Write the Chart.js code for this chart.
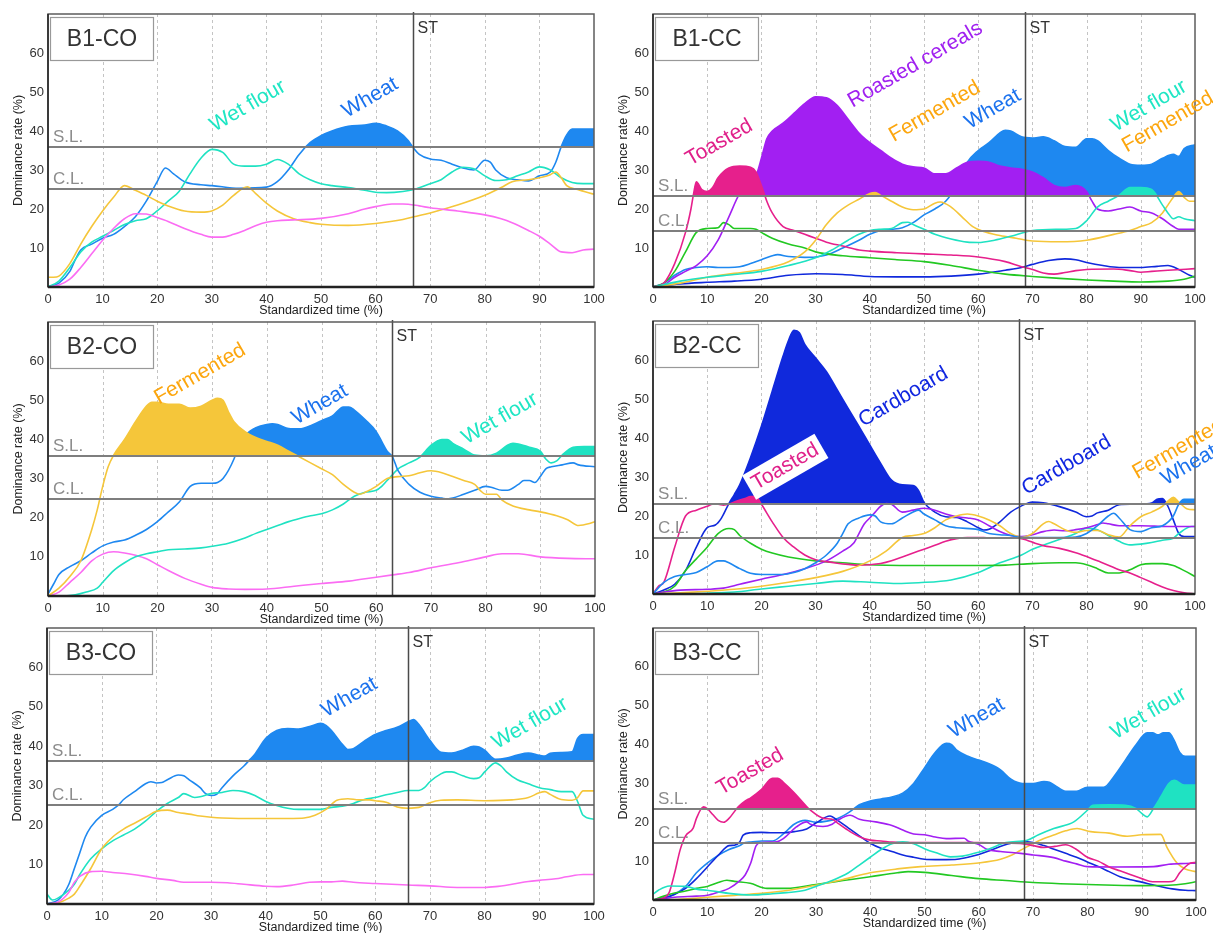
<!DOCTYPE html>
<html>
<head>
<meta charset="utf-8">
<script src="https://cdn.jsdelivr.net/npm/chart.js@4.4.0/dist/chart.umd.min.js"></script>
<style>
body{margin:0;background:#fff;width:1213px;height:933px;overflow:hidden;position:relative}
canvas{position:absolute}
</style>
</head>
<body>
<script>
//DATA - [standardized time, dominance rate]

// B1-CO
var b1coWheat = [[0,0],[2,1],[4,4],[5,7],[6,9.5],[8,11],[10,12.5],[12,13.5],[14,15.5],[16,18],[18,22],[20,27],[21.5,30.5],[23,29],[25,27],[28,26.2],[30,26],[35,25.3],[40,25.6],[42,27],[44,30],[46,34],[48,37],[50,38.8],[52,40],[55,41.2],[58,41.5],[60,42],[62,41.3],[64,40],[66,37.5],[67,35.5],[68,34],[70,32.8],[72,32.5],[74,31.5],[76,30.5],[78,30],[80,32.5],[81,32],[82,30],[84,28],[86,27.5],[88,27.2],[90,28.5],[92,29.5],[93,32],[94,36],[95,39],[96,40.5],[100,40.5]];
var b1coWetFlour = [[0,0],[2,1.5],[4,5],[6,9],[8,11.5],[10,13],[12,14.5],[14,16],[16,17],[18,17.5],[20,19.5],[22,22],[24,24.5],[26,29],[28,33],[30,35.3],[32,34.5],[34,31.5],[36,31],[38,31],[40,31.5],[42,32.7],[44,31.5],[46,29],[48,27.5],[50,26.5],[52,26],[55,25.5],[58,24.8],[60,24.3],[62,24.2],[65,24.5],[67,25],[70,26.5],[72,27.5],[74,29.5],[76,30.7],[78,30.3],[80,28.5],[82,27.3],[84,27.5],[86,28.5],[88,29.5],[90,30.8],[92,30],[94,28],[96,26.8],[98,26.5],[100,26.5]];
var b1coFermented = [[0,2.5],[1,2.5],[2,2.8],[4,6],[6,11],[8,15.5],[10,19.5],[12,23],[14,26],[16,24.8],[18,23.5],[20,22],[22,20.8],[25,19.5],[28,19.2],[30,19.5],[32,21],[34,23.5],[36.5,25.7],[38,24],[40,21.5],[42,19.5],[45,17.5],[48,16.5],[50,16.1],[55,15.8],[60,16.3],[65,17.3],[67,18],[70,19],[75,21],[80,23.5],[83,25.5],[85,27],[88,27.5],[90,28],[92,28.8],[93,29.5],[94,28],[95,26],[97,25],[100,23.8]];
var b1coPink = [[0,0],[2,0.5],[4,2],[6,5],[8,8.5],[10,12],[12,15],[14,17.5],[16,18.8],[18,18.7],[20,17.8],[22,16.8],[25,15],[28,13.5],[30,12.8],[32,12.8],[34,13.5],[36,14.5],[38,15.7],[40,16.6],[42,17],[45,17.2],[50,17.6],[55,18.8],[58,20],[60,20.6],[63,21.3],[65,21.3],[68,20.8],[70,20.3],[75,19.5],[80,18.5],[83,17.5],[85,16.5],[88,14.5],[90,13],[92,11],[94,9],[96,8.8],[98,9.5],[100,9.7]];

// B1-CC
var b1ccToasted = [[0,0],[2,1],[4,6],[6,14],[7,20],[7.5,24],[8,27],[9,25],[10,24.5],[11,25.5],[12,28],[14,30.5],[16,31],[18,30.7],[19,29.5],[20,26],[21,22],[22,19],[24,15.5],[26,14.5],[28,13.5],[30,12.5],[32,11.5],[35,10.5],[38,9.5],[40,9.2],[45,8.8],[50,8.5],[55,8.2],[60,7.7],[65,6.5],[68,5.2],[70,4.5],[72,3.6],[74,3.3],[76,3.7],[78,4.2],[80,4.5],[85,4.6],[88,4.2],[90,3.8],[92,4],[95,4.3],[100,4.7]];
var b1ccRoasted = [[0,0],[2,0.5],[4,2.5],[6,4],[8,5.5],[10,8],[12,12],[14,18],[16,24],[18,27],[19,28.5],[20,33],[21,38],[22,40],[24,42],[26,44.5],[28,47],[30,48.8],[32,48.5],[34,46.5],[36,43],[38,39.5],[40,37],[42,35],[44,33],[46,31.5],[48,30.8],[50,30.5],[52,29],[54,29],[56,30.5],[58,32],[60,32.2],[62,32],[64,31],[66,30.5],[68,30.2],[70,29.5],[72,28],[74,26],[76,25.5],[78,26],[80,24.5],[81,22],[82,20],[84,19.5],[86,20],[88,20.5],[90,19.5],[92,19],[94,17.5],[96,15.5],[97,14.8],[100,14.8]];
var b1ccWheat = [[0,0],[2,1],[4,3],[6,4.5],[8,5],[10,5.2],[12,5],[14,5],[16,5.2],[18,6],[20,7],[22,8],[23,8.3],[25,7.8],[28,7.6],[30,7.7],[32,8.2],[35,10],[38,12],[40,13.5],[42,14.5],[44,14.8],[46,15.2],[48,16.5],[50,18.5],[52,20],[54,22],[56,26],[58,32],[60,35],[62,37],[64,39.5],[65,40.2],[66,40],[68,38.5],[70,38.2],[72,38.5],[74,37.5],[76,36],[78,35.8],[80,38],[81,38],[82,37.5],[84,35],[86,33],[88,31.5],[90,31.2],[92,31.5],[94,33],[96,34],[97,33.5],[98,35.5],[100,36.5]];
var b1ccFermented = [[0,0],[5,1],[10,2.5],[15,3.5],[20,4.5],[25,6.5],[28,9],[30,12],[32,16],[34,19],[36,21],[38,22.5],[40,24],[41,24.2],[42,23.5],[44,22],[46,20.5],[48,19.8],[50,20],[52,21.5],[53,21.8],[55,20.5],[57,18],[59,15.5],[61,14.2],[64,13.2],[67,12.5],[70,11.8],[75,11.6],[80,12],[85,13.5],[88,14.5],[90,15.5],[92,16.5],[94,19],[95,21],[96,23],[97,24.5],[98,23],[99,22],[100,22]];
var b1ccWetFlour = [[0,0],[5,1.5],[10,2.5],[15,3.2],[20,4],[25,5.5],[30,7.5],[33,9.5],[36,12],[38,13.5],[40,14.5],[42,14.8],[44,15],[46,16.5],[47,16.6],[48,16],[50,14.8],[52,13.5],[55,12.3],[58,11.5],[60,11.4],[63,12],[66,13],[70,14.5],[75,14.8],[78,15],[80,17],[82,20.5],[84,22],[86,23.5],[88,25.5],[90,25.5],[92,25],[94,21],[95,19],[96,17.5],[97,18],[98,17.5],[100,17]];
var b1ccCardboard = [[0,0],[5,0.8],[10,1.2],[15,1.5],[20,2],[25,3],[30,3.4],[35,3.2],[40,2.7],[45,2.6],[50,2.6],[55,2.8],[60,3.3],[65,4.3],[68,5],[70,5.8],[73,6.8],[76,7.2],[78,7],[80,6.3],[83,5.5],[86,5],[90,5],[93,5.3],[95,5.5],[97,4.5],[99,3],[100,2.5]];
var b1ccGreen = [[0,0],[2,1],[4,4],[6,9],[8,14],[10,15],[12,15.2],[13,16.5],[14,16],[15,15],[18,15],[19,14.8],[20,14],[22,12.5],[25,11],[28,10],[30,9],[35,8],[40,7.5],[45,7],[50,6.5],[55,5.5],[60,4.3],[65,3.3],[70,2.7],[75,2.2],[80,1.8],[85,1.5],[90,1.3],[95,1.5],[98,2],[100,2.8]];

// B2-CO
var b2coFermented = [[0,0],[2,2],[4,5],[6,9],[8,17],[9,22],[10,28],[11,33],[12,36],[14,40],[16,44.5],[18,48.5],[19,49.5],[20,49.5],[22,49],[24,49],[26,48],[28,48.5],[30,50],[31,50.5],[32,50],[33,47],[34,44.5],[36,42],[38,40.5],[40,39.5],[42,38.5],[44,37],[46,35.5],[48,34],[50,32.5],[52,31],[54,28.5],[56,26.5],[57,26],[58,26.5],[60,28],[62,30],[64,30.5],[66,30.7],[68,31.5],[70,32],[72,31.5],[74,30.5],[76,29.5],[78,28.5],[79,27],[80,26],[82,26],[83,24.5],[85,23],[88,22],[90,21.5],[93,20.5],[95,19.5],[97,18],[99,18.5],[100,19]];
var b2coWheat = [[0,0.5],[1,3],[2,5.5],[4,7.5],[6,9],[8,11],[10,12.8],[12,13.8],[14,14.3],[16,15.5],[18,17],[20,19],[22,21.5],[24,24],[26,28],[28,28.8],[30,28.8],[31,29],[32,30],[34,35],[35,39],[36,41],[37,42.2],[38,43],[40,43.8],[41,44],[42,43.8],[44,42.8],[46,42.7],[48,43.5],[50,44.8],[52,46],[54,48.3],[55,48.3],[56,47.5],[58,45],[60,42],[61,39.5],[62,37],[63,35.5],[64,32],[66,28.5],[68,26.5],[70,25.5],[72,25],[73,24.8],[74,25],[76,26],[78,27],[80,28],[81,27.8],[83,27],[84,27],[86,28.5],[87,29.5],[88,29.5],[89,29],[90,30.5],[91,32.5],[92,33],[94,33.5],[96,34],[97,33.5],[100,33]];
var b2coWetFlour = [[0,0],[3,0],[5,0.3],[7,1],[9,2],[10,3.5],[12,6.5],[14,8.5],[16,10],[18,10.8],[20,11.3],[22,11.8],[25,12],[28,12.3],[30,12.7],[33,13.5],[36,14.8],[38,16],[40,17],[42,18],[44,19],[46,19.8],[48,20.5],[50,21],[52,22],[54,23.5],[56,25.5],[58,26.5],[60,27],[61,28],[62,29.5],[63,31],[64,32.5],[66,34],[68,35.5],[69,37],[70,38.5],[72,40],[73,40],[74,39],[76,37.5],[78,36],[80,35.8],[82,36.5],[84,38.5],[85,39],[86,38.8],[88,38],[90,37],[91,35],[92,34],[93,34.5],[94,36],[96,38],[98,38.2],[100,38.2]];
var b2coPink = [[0,0],[2,1],[4,3.5],[6,6],[8,9],[10,10.7],[12,11.3],[14,11],[16,10.4],[18,9.5],[20,8],[22,6.5],[25,4.5],[28,3],[30,2.2],[33,1.8],[36,1.7],[40,1.8],[45,2.5],[50,3.2],[55,3.8],[60,4.8],[63,5.4],[66,6],[70,7.2],[75,8.5],[80,10],[83,10.8],[86,10.8],[90,10],[95,9.6],[100,9.5]];

// B2-CC
var b2ccCardboard = [[0,0],[2,1],[4,2.5],[6,6],[8,12],[10,17],[11.5,17.7],[12.6,19.4],[14,23.2],[15,25.5],[16,28],[18,35],[20,43],[22,52],[24,61],[25,65],[26,67.6],[27,67],[28,64],[30,60.5],[32,57],[34,52.3],[36,47.6],[38,43],[40,38.2],[42,33.5],[44,29.2],[46,28],[48,27.8],[49,26.5],[50,23.5],[52,21],[54,19.8],[56,19.6],[58,18.5],[60,17],[61,16.4],[62,16.6],[64,18.5],[66,21],[68,22.6],[70,23.6],[72,23.4],[75,22.4],[78,21],[80,19.8],[81,20],[82,20.8],[84,21.5],[86,22.9],[88,23],[90,23],[92,23.3],[93,24.3],[94,24.5],[95,22.5],[96,19],[97,15.5],[98,14.7],[100,14.7]];
var b2ccToasted = [[0,0],[1,2],[2,3],[4,12],[6,20],[8,21.5],[10,22.5],[11,23],[12,23],[13,22.8],[14,23],[15,23.6],[17,24.5],[18,25],[19,25],[20,23],[22,18.5],[24,14.5],[26,12],[28,10],[30,8.8],[32,8.3],[34,7.9],[36,7.6],[38,7.4],[40,7.5],[42,7.8],[44,8.5],[46,9.5],[48,10.5],[50,11.5],[52,12.5],[54,13.5],[56,14.2],[58,14.5],[60,14.5],[62,14.4],[65,14.4],[67,14.4],[69,13.8],[70.5,13],[72,12.4],[75,11.7],[78,10.6],[80,9.6],[82,8.5],[84,7.4],[86,6.2],[88,5.4],[90,4.2],[92,3],[94,1.8],[96,0.9],[98,0.3],[100,0]];
var b2ccRoasted = [[0,0],[2,0.5],[5,1],[10,1.2],[13,1.5],[16,2.5],[20,3.8],[24,5],[28,6.5],[32,8.5],[35,11],[37,13],[38,15.5],[39,18],[40,19.5],[41,21],[42,22.5],[43,23.2],[44,23],[46,21],[48,21.5],[50,22],[52,21.5],[54,20.5],[56,19.8],[58,19.5],[60,19],[62,17.5],[64,16],[66,15],[68,14.7],[70,15.2],[72,16],[74,16.4],[76,16.2],[78,16.5],[80,17],[82,17.8],[83,18.2],[84,18],[86,17.5],[88,17.5],[90,17.5],[95,17.3],[100,17.3]];
var b2ccFermented = [[0,0],[5,0.3],[10,0.7],[15,1.2],[20,2],[25,3],[30,4.2],[35,5.8],[40,8.5],[43,11],[46,14.5],[48,15],[50,15.5],[52,17],[54,19],[56,20],[58,20.5],[60,20],[62,19],[64,17.5],[66,15.5],[68,14.5],[70,15.5],[72,18],[73,18.6],[74,18],[76,16.5],[78,15.8],[80,16.3],[82,16.3],[84,15.2],[86,14.6],[88,17.5],[90,19.8],[92,21],[94,22.5],[95,23.8],[96,24.8],[97,23.6],[98.6,21.8],[100,21.6]];
var b2ccWheat = [[0,0],[2,3],[4,4.5],[6,5],[8,5.5],[10,7],[12,8.5],[13,8.5],[14,8],[16,6.5],[18,5.3],[20,5],[24,5],[26,5.5],[28,6.5],[30,8],[32,10],[34,13],[35,15.5],[36,18],[38,19.5],[40,20.3],[41,20],[42,18.5],[44,18],[46,19.5],[48,21],[49,21.5],[50,20.5],[52,19],[54,17.5],[56,17],[60,16.5],[62,15.5],[64,15.2],[66,15],[68,14.5],[70,14.5],[75,14.5],[78,14.6],[80,15.5],[82,17.5],[84,20],[85,20.7],[86,19.5],[88,16.5],[90,16],[92,17],[94,17.5],[96,20],[97,23],[98,24.3],[100,24.3]];
var b2ccWetFlour = [[0,0],[10,0.2],[15,0.5],[20,1.3],[25,2],[30,2.7],[35,3.3],[40,3],[45,2.7],[49,2.9],[55,3.6],[60,5.5],[64,8],[68,10],[70,11.5],[73,13],[76,14.5],[78,15.5],[80,16.9],[82,16.5],[84,15],[86,13.5],[88,12.6],[90,12.8],[92,13.2],[94,13.8],[96,14.3],[97,15.5],[99.4,17.3],[100,17.3]];
var b2ccGreen = [[0,0],[2,0.5],[4,2],[6,6],[8,9],[10,12],[12,15.5],[14,16.8],[15,16.5],[16,15],[18,13],[20,11.5],[22,10.5],[25,9.5],[30,8.5],[35,8],[40,7.5],[50,7.3],[60,7.3],[65,7.4],[70,7.8],[75,8],[78,8],[80,7.5],[82,6.5],[84,5.4],[86,5.4],[88,6.2],[90,7.5],[92,7.8],[94,7.8],[96,7.3],[98,6],[100,4.5]];

// B3-CO
var b3coWheat = [[0,0],[2,1],[3,2.5],[4,5],[5,9],[6,13],[7,17],[8,19.5],[10,22.5],[12,24],[13,25],[14,26.5],[16,28.5],[18,30.5],[19,31],[20,30.7],[21,30.8],[22,31.5],[24,32.7],[25,32.5],[26,31.5],[28,29.5],[29,28],[30,27.5],[31,27.8],[32,29.5],[34,32.5],[36,35],[37,36.5],[38,38],[40,42],[42,44],[44,44.5],[46,44.4],[48,45],[50,45.8],[51,45.3],[52,44],[54,40.5],[55,39.2],[56,39.4],[58,41.3],[60,43],[62,44],[64,44.8],[66,46.2],[67,46.8],[68,45.5],[70,41.5],[72,38.5],[74,38.3],[76,39],[78,40],[79,39.8],[80,39],[82,36.7],[84,37],[86,37.8],[88,38.3],[90,37.7],[91,37.5],[92,38.2],[94,38.4],[96,38.6],[97,42],[98,43],[100,43]];
var b3coWetFlour = [[0,2.5],[1,1],[2,1.5],[4,3.5],[5,5],[6,7.5],[8,11.5],[10,14],[12,16],[14,17.5],[16,19],[18,21],[20,23.5],[22,25.5],[24,27],[25,28],[27,27],[28,27.2],[30,28],[32,28.3],[34,28.8],[36,28.5],[38,27.5],[40,26],[42,25],[44,24.3],[46,24],[48,24],[50,24],[52,24.5],[54,24.8],[56,25.5],[58,26.5],[60,27],[62,27.7],[64,28.3],[66,28.8],[68,28.8],[69,29.5],[70,31],[72,33],[73,33.5],[74,33.5],[76,32.5],[78,31.8],[79,32],[80,33.5],[82,35.8],[83,35],[84,33.5],[86,31.5],[88,30.5],[90,29.5],[92,29],[94,28.5],[96,28.5],[97,26],[98,22.5],[100,21.5]];
var b3coFermented = [[0,0],[2,0.3],[4,1.5],[5,2.5],[6,4.5],[8,9],[10,14],[12,17],[14,19],[16,20.5],[18,22],[20,23.5],[22,23.8],[24,23.2],[26,22.8],[28,22.3],[30,22],[32,21.8],[35,21.7],[40,21.7],[45,21.7],[47,21.8],[49,22.5],[51,24],[53,26.3],[55,26.7],[57,26.4],[59,26.4],[60,26.2],[62,25.8],[64,24.6],[66,24.3],[68,24.5],[70,25.7],[72,26.3],[75,26.4],[80,26.2],[85,26.4],[88,27],[90,28.2],[91,28.5],[92,27.8],[94,26.5],[96,26.3],[97,27],[98,28.7],[100,28.7]];
var b3coPink = [[0,0],[2,0.5],[4,3],[5,5.5],[6,7],[8,8.2],[10,8.3],[12,8],[15,7.6],[18,7],[20,6.5],[23,6],[25,5.5],[28,5.5],[30,5.5],[33,5.4],[36,5],[40,4.5],[42,4.4],[45,4.8],[48,5.5],[50,5.6],[52,5.6],[54,5.8],[56,5.5],[60,5.2],[63,5],[66,4.8],[70,4.6],[75,4.2],[80,4.2],[82,4.4],[85,5],[88,5.7],[90,6],[93,6.4],[95,6.9],[98,7.5],[100,7.5]];

// B3-CC
var b3ccToasted = [[0,0],[2,0.5],[3,2],[4,7],[5,12.9],[6,16.5],[7.4,18.5],[8,21],[9.3,24],[10,23.5],[11,22],[12,20.5],[13,20],[14,21],[15.7,24],[17,25.5],[18,26.3],[20,28.5],[22,31.3],[23,31.3],[24,30.3],[26,27.6],[28,24.5],[29,23.1],[31.4,21],[33,20.8],[34,19.8],[36.3,17.6],[38,16.3],[40,15.4],[42,15.2],[44,14.9],[46,14.8],[50,14.8],[55,14.8],[60,14.8],[65,14.6],[68,14.5],[70,14],[72,13.5],[74,13.8],[76,14.2],[78,13],[80,11],[82,10],[84,8.5],[86,7.5],[88,6.5],[90,5.5],[92,4.7],[95,4.7],[96,5],[97,7],[98,8.5],[99,9.5],[100,9.7]];
var b3ccWheat = [[0,0],[2,0.5],[4,1.5],[6,3.5],[8,7],[10,9.5],[12,11.5],[14,13],[16,14],[17,14.8],[18,14.9],[20,15.2],[22,15.2],[24,17],[26,19.5],[28,20.5],[30,20],[32,20.3],[34,21],[36,22.5],[38,24.5],[40,25.5],[42,26],[44,26.5],[46,27.5],[48,30],[50,34],[52,38],[54,40.3],[55,40],[56,38.5],[58,37],[60,36],[62,35],[64,33.5],[66,31],[68,30],[70,30],[72,30.5],[73,30.3],[74,29.5],[76,28],[78,28],[80,29],[82,29],[83,29],[85,32],[87,36],[89,40],[91,43],[92,43],[93,42.5],[94,43],[95,43],[96,41],[97,38],[98,37],[100,37]];
var b3ccWetFlour = [[0,1.5],[1,2.5],[3,3.6],[6,3.5],[8,2.8],[10,2.5],[12,2.1],[14,1.7],[18,1.3],[22,1.6],[24.6,1.9],[28,2.5],[30,3.5],[33,5],[36,7],[38,9],[40,11],[42,13],[44,14.5],[46,15],[48,14.5],[50,13.2],[52,12.2],[54.8,11.1],[57,11.3],[60,12.3],[62,13.2],[65,14.8],[68.9,15.4],[71,16.8],[73.8,18.4],[77.5,20.1],[80,23.1],[81,24.4],[84,24.5],[87,24.4],[89,23.5],[90,22.3],[91,21.4],[92.2,23.6],[93.5,26.5],[95,30],[96,30.8],[97.8,29.6],[100,29.6]];
var b3ccCardboard = [[0,0],[2,0.5],[4,1.5],[6,3],[8,5.5],[10,8.5],[12,11.5],[14,14],[15,14.1],[16,15],[16.6,16.7],[18,17.3],[20,17.4],[22,17.3],[24,17.3],[26,17.6],[28.3,18.3],[30,19.8],[32.6,21.6],[34,20.5],[36,18.5],[38,16.5],[40,14.6],[42,13.3],[44,12.5],[46,11.6],[48,11],[50,10.5],[52,10.4],[54,10.4],[56,10.5],[58,11],[60,11.7],[62,12.7],[64.6,14.1],[66,14.6],[68.9,15],[70,14.8],[72,14],[74,13],[76,12],[78,11],[80,9.8],[82,8.6],[84,7.3],[86,6],[88,5.2],[90,4.6],[92,3.9],[94,3.3],[96,2.8],[98,2.5],[100,2.4]];
var b3ccRoasted = [[0,0],[4,0.7],[8,1],[10,1.2],[12,2],[14,3],[16,5],[17,6.5],[18,9.5],[19,14],[20,14.8],[22.8,15],[24,15.8],[26.4,18.8],[28.3,20.1],[29,19.5],[31.3,18.9],[33,19.5],[34,20.5],[36.3,21.8],[38,20.8],[41,20.1],[44,19.2],[46,18],[48,17],[50,16.8],[52,16.2],[54,15.8],[57.3,15.9],[58,15.2],[60,14.3],[61.6,13],[64,12.5],[67.7,12],[70,11.6],[73.8,10.9],[76,10],[78,9.3],[80,8.6],[85,8.5],[92.2,8.6],[95,9.2],[98,9.4],[100,9.5]];
var b3ccFermented = [[0,0],[5,0.2],[10,0.7],[15,1.2],[20,1.7],[25,2.5],[30,3.8],[35,5.3],[40,7],[45,8],[49.3,8.6],[55,9],[60.3,9.6],[64,10.5],[66,11.5],[67.7,12.8],[70,14.5],[72,15.8],[73.8,16.7],[76,17.8],[78.1,18.4],[80.6,17.6],[84,17.2],[87.3,16.4],[90,16.8],[93.5,16.9],[94.7,13.4],[96.5,9.5],[98,8],[100,7.3]];
var b3ccGreen = [[0,0],[2,1],[4,1.8],[6,2.3],[8,3],[10,3.5],[12,4.5],[13.6,5.1],[15,4.8],[17.9,4.3],[21,3],[24.6,3],[30,4],[35,5],[40,6],[45,7],[47,7.3],[50,7.1],[55,6.3],[60,5.5],[65,5],[70,4.5],[75,4.2],[80,4],[85,3.8],[90,3.7],[95,3.8],[98,4.2],[100,4.7]];

// panel levels
var panelNames = ['B1-CO', 'B1-CC', 'B2-CO', 'B2-CC', 'B3-CO', 'B3-CC'];
var slLevels = [36, 23.3, 35.8, 23.2, 36.2, 23.3];
var clLevels = [25, 14.4, 24.8, 14.4, 25.2, 14.6];
var stTimes = [66.8, 68.7, 62.9, 67.5, 66, 68.4];

//STYLE
var FONT = '"Liberation Sans", Arial, sans-serif';
var col = {
    wheat: '#1e88f0', wet: '#1fe2c2', ferm: '#f5c63a', pink: '#fb6cf3',
    toast: '#e6208c', roast: '#a21ff2', card: '#1029dc', green: '#22c822'
};
var txt = {
    wheat: '#1b72ee', wet: '#1ee6c4', ferm: '#fca60e', toast: '#e0208a', roast: '#a020f0', card: '#1026e0'
};

var panels = [
    { left: 0, top: 0, w: 605, h: 330, area: [14, 287, 48, 594],
      series: [[b1coWheat, col.wheat, 3], [b1coWetFlour, col.wet, 2], [b1coFermented, col.ferm, 1], [b1coPink, col.pink, 0]],
      notes: [['Wet flour', 36.6, 46.4, txt.wet], ['Wheat', 59, 48.5, txt.wheat]] },
    { left: 605, top: 0, w: 608, h: 330, area: [14, 287, 653, 1195],
      series: [[b1ccWetFlour, col.wet, 0], [b1ccFermented, col.ferm, 1], [b1ccToasted, col.toast, 2], [b1ccRoasted, col.roast, 3], [b1ccGreen, col.green, 4], [b1ccCardboard, col.card, 5], [b1ccWheat, col.wheat, 6]],
      notes: [['Toasted', 12.2, 37, txt.toast], ['Roasted cereals', 48.4, 57, txt.roast], ['Fermented', 52, 45, txt.ferm], ['Wheat', 62.7, 45.6, txt.wheat], ['Wet flour', 91.5, 46.4, txt.wet], ['Fermented', 95, 42.3, txt.ferm]] },
    { left: 0, top: 310, w: 605, h: 330, area: [322, 596, 48, 595],
      series: [[b2coFermented, col.ferm, 0], [b2coWheat, col.wheat, 1], [b2coWetFlour, col.wet, 2], [b2coPink, col.pink, 3]],
      notes: [['Fermented', 27.8, 56.7, txt.ferm], ['Wheat', 49.7, 48.9, txt.wheat], ['Wet flour', 82.6, 45.3, txt.wet]] },
    { left: 605, top: 310, w: 608, h: 330, area: [321, 594, 653, 1195],
      series: [[b2ccWheat, col.wheat, 0], [b2ccFermented, col.ferm, 1], [b2ccToasted, col.toast, 2], [b2ccRoasted, col.roast, 3], [b2ccGreen, col.green, 4], [b2ccWetFlour, col.wet, 5], [b2ccCardboard, col.card, 6]],
      notes: [['Cardboard', 46.2, 50.5, txt.card], ['Toasted', 24.4, 32.6, txt.toast, true], ['Cardboard', 76.3, 33, txt.card], ['Fermented', 96.9, 37.2, txt.ferm], ['Wheat', 98.9, 33, txt.wheat]] },
    { left: 0, top: 620, w: 605, h: 313, area: [628, 904, 47, 594],
      series: [[b3coWheat, col.wheat, 3], [b3coWetFlour, col.wet, 2], [b3coFermented, col.ferm, 1], [b3coPink, col.pink, 0]],
      notes: [['Wheat', 55.3, 52.4, txt.wheat], ['Wet flour', 88.3, 45.8, txt.wet]] },
    { left: 605, top: 620, w: 608, h: 313, area: [628, 900, 653, 1196],
      series: [[b3ccWetFlour, col.wet, 0], [b3ccToasted, col.toast, 1], [b3ccRoasted, col.roast, 2], [b3ccFermented, col.ferm, 3], [b3ccGreen, col.green, 4], [b3ccCardboard, col.card, 5], [b3ccWheat, col.wheat, 6]],
      notes: [['Toasted', 17.9, 33, txt.toast], ['Wheat', 59.6, 46.8, txt.wheat], ['Wet flour', 91.3, 48, txt.wet]] }
];

function makePanel(p, i) {
    var cv = document.createElement('canvas');
    cv.width = p.w;
    cv.height = p.h;
    cv.style.left = p.left + 'px';
    cv.style.top = p.top + 'px';
    document.body.appendChild(cv);

    var padTop = p.area[0] - p.top;
    var axisH = p.top + p.h - p.area[1];
    var axisW = p.area[2] - p.left;
    var padRight = p.left + p.w - p.area[3];
    var sl = slLevels[i], cl = clLevels[i];

    var datasets = p.series.map(function (s) {
        return {
            data: s[0].map(function (pt) { return { x: pt[0], y: pt[1] }; }),
            borderColor: s[1],
            borderWidth: 1.6,
            pointRadius: 0,
            cubicInterpolationMode: 'monotone',
            fill: { target: { value: sl }, above: s[1], below: 'rgba(0,0,0,0)' },
            order: s[2]
        };
    });

    var deco = {
        id: 'deco' + i,
        beforeDatasetsDraw: function (chart) {
            var a = chart.chartArea, xs = chart.scales.x, ctx = chart.ctx;
            ctx.save();
            ctx.strokeStyle = '#c4c4c4';
            ctx.lineWidth = 1;
            ctx.setLineDash([3, 3]);
            for (var t = 10; t < 100; t += 10) {
                var x = Math.round(xs.getPixelForValue(t)) + 0.5;
                ctx.beginPath(); ctx.moveTo(x, a.top); ctx.lineTo(x, a.bottom); ctx.stroke();
            }
            ctx.restore();
        },
        afterDatasetsDraw: function (chart) {
            var a = chart.chartArea, xs = chart.scales.x, ys = chart.scales.y, ctx = chart.ctx;
            ctx.save();
            // S.L. / C.L.
            [[sl, 'S.L.'], [cl, 'C.L.']].forEach(function (l) {
                var y = Math.round(ys.getPixelForValue(l[0]));
                ctx.strokeStyle = '#7e7e7e';
                ctx.lineWidth = 2;
                ctx.beginPath(); ctx.moveTo(a.left, y); ctx.lineTo(a.right, y); ctx.stroke();
                ctx.fillStyle = '#8c8c8c';
                ctx.font = '17px ' + FONT;
                ctx.textAlign = 'left';
                ctx.textBaseline = 'alphabetic';
                ctx.fillText(l[1], a.left + 5, y - 5);
            });
            // ST
            var sx = Math.round(xs.getPixelForValue(stTimes[i])) + 0.5;
            ctx.strokeStyle = '#4a4a4a';
            ctx.lineWidth = 1.5;
            ctx.beginPath(); ctx.moveTo(sx, a.top - 2); ctx.lineTo(sx, a.bottom); ctx.stroke();
            ctx.fillStyle = '#333';
            ctx.font = '16px ' + FONT;
            ctx.fillText('ST', sx + 4, a.top + 19);
            // frame
            ctx.strokeStyle = '#5c5c5c';
            ctx.lineWidth = 1.5;
            ctx.strokeRect(a.left, a.top, a.right - a.left, a.bottom - a.top);
            ctx.strokeStyle = '#222';
            ctx.lineWidth = 2.5;
            ctx.beginPath(); ctx.moveTo(a.left, a.bottom); ctx.lineTo(a.right, a.bottom); ctx.stroke();
            ctx.lineWidth = 1.5;
            ctx.beginPath(); ctx.moveTo(a.left, a.top); ctx.lineTo(a.left, a.bottom); ctx.stroke();
            // title box
            ctx.fillStyle = '#fff';
            ctx.fillRect(a.left + 2, a.top + 3, 103, 43);
            ctx.strokeStyle = '#999';
            ctx.lineWidth = 1.2;
            ctx.strokeRect(a.left + 2.5, a.top + 3.5, 103, 43);
            ctx.fillStyle = '#333';
            ctx.font = '23px ' + FONT;
            ctx.textAlign = 'center';
            ctx.textBaseline = 'middle';
            ctx.fillText(panelNames[i], a.left + 54, a.top + 26);
            // notes
            ctx.font = '21px ' + FONT;
            p.notes.forEach(function (n) {
                var nx = xs.getPixelForValue(n[1]), ny = ys.getPixelForValue(n[2]);
                ctx.save();
                ctx.translate(nx, ny);
                ctx.rotate(-30 * Math.PI / 180);
                if (n[4]) {
                    var tw = ctx.measureText(n[0]).width;
                    ctx.fillStyle = '#fff';
                    ctx.fillRect(-tw / 2 - 5, -14, tw + 10, 28);
                }
                ctx.fillStyle = n[3];
                ctx.fillText(n[0], 0, 0);
                ctx.restore();
            });
            // axis titles
            ctx.fillStyle = '#222';
            ctx.font = '12.5px ' + FONT;
            ctx.fillText('Standardized time (%)', (a.left + a.right) / 2, a.bottom + 24);
            ctx.save();
            ctx.translate(a.left - 29, (a.top + a.bottom) / 2);
            ctx.rotate(-Math.PI / 2);
            ctx.fillText('Dominance rate (%)', 0, 0);
            ctx.restore();
            ctx.restore();
        }
    };

    new Chart(cv, {
        type: 'line',
        data: { datasets: datasets },
        options: {
            responsive: false,
            animation: false,
            events: [],
            layout: { padding: { top: padTop, right: padRight, left: 0, bottom: 0 } },
            plugins: { legend: { display: false }, tooltip: { enabled: false } },
            scales: {
                x: {
                    type: 'linear', min: 0, max: 100,
                    grid: { display: false, drawTicks: false },
                    border: { display: false },
                    ticks: { stepSize: 10, autoSkip: false, maxRotation: 0, padding: 5, color: '#333', font: { size: 13, family: FONT } },
                    afterFit: function (s) { s.height = axisH; s.paddingLeft = 0; s.paddingRight = 0; }
                },
                y: {
                    min: 0, max: 70,
                    grid: { display: false, drawTicks: false },
                    border: { display: false },
                    ticks: {
                        stepSize: 10, padding: 4, color: '#333', font: { size: 13, family: FONT },
                        callback: function (v) { return (v > 0 && v < 70) ? v : ''; }
                    },
                    afterFit: function (s) { s.width = axisW; s.paddingTop = 0; s.paddingBottom = 0; }
                }
            }
        },
        plugins: [deco]
    });
}

panels.forEach(makePanel);
</script>
</body>
</html>
